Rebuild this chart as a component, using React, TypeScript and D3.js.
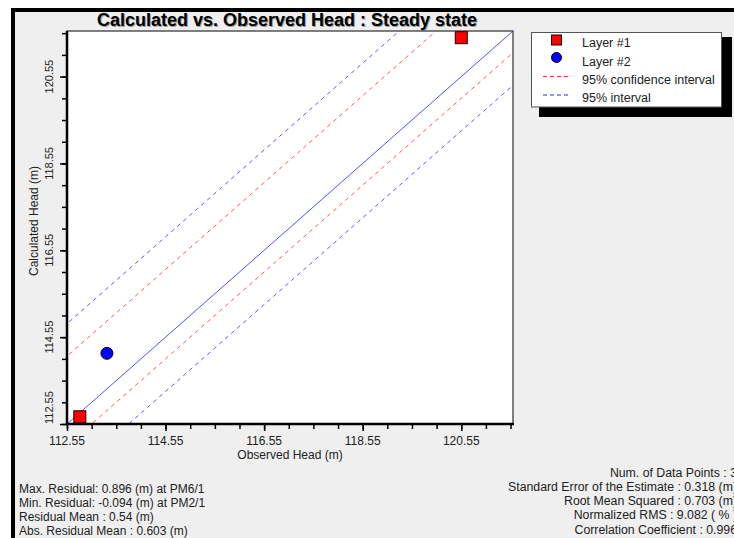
import React, { Component } from 'react';
import * as d3 from 'd3';

// observed vs calculated heads
const layer1 = [
  { observed: 112.81, calculated: 112.716 },
  { observed: 120.55, calculated: 121.446 },
];
const layer2 = [{ observed: 113.36, calculated: 114.178 }];

const axisDomain = [112.55, 121.6];
const majorTicks = [112.55, 114.55, 116.55, 118.55, 120.55];
const minorTicks = [
  112.55, 113.05, 113.55, 114.05, 114.55, 115.05, 115.55, 116.05, 116.55,
  117.05, 117.55, 118.05, 118.55, 119.05, 119.55, 120.05, 120.55, 121.05, 121.55,
];

// interval lines are parallel to 1:1, shifted by the residual mean
const residualMean = 0.53;
const confidenceHalf = 1.03;
const intervalHalf = 1.78;

const legendLabels = ['Layer #1', 'Layer #2', '95% confidence interval', '95% interval'];

const leftStats = [
  'Max. Residual: 0.896 (m) at PM6/1',
  'Min. Residual: -0.094 (m) at PM2/1',
  'Residual Mean : 0.54 (m)',
  'Abs. Residual Mean : 0.603 (m)',
];
const rightStats = [
  'Num. of Data Points : 3',
  'Standard Error of the Estimate : 0.318 (m)',
  'Root Mean Squared : 0.703 (m)',
  'Normalized RMS : 9.082 ( % )',
  'Correlation Coefficient : 0.996',
];

const FONT = "Arial, 'Liberation Sans', sans-serif";
const W = 734, H = 538;
const plot = { left: 67, right: 513, top: 31, bottom: 424 };
const RED = '#ff2a2a', BLUE = '#2a2aff';

class ScatterChart extends Component {
  el: SVGSVGElement | null = null;

  componentDidMount() {
    this.draw();
  }

  draw() {
    const svg = d3.select(this.el);
    svg.selectAll('*').remove();

    const x = d3.scaleLinear().domain(axisDomain).range([plot.left, plot.right]);
    const y = d3.scaleLinear().domain(axisDomain).range([plot.bottom, plot.top]);

    // frame / background
    svg.append('rect').attr('width', W).attr('height', H).attr('fill', '#fff');
    svg.append('rect').attr('x', 15).attr('y', 12).attr('width', W - 15).attr('height', H - 12).attr('fill', '#efefef');
    svg.append('rect').attr('x', 11).attr('y', 8).attr('width', 4).attr('height', H - 8).attr('fill', '#000');
    svg.append('rect').attr('x', 11).attr('y', 8).attr('width', W - 11).attr('height', 4).attr('fill', '#000');

    // title with its soft shadow
    const title = 'Calculated vs. Observed Head : Steady state';
    svg.append('text').attr('x', 288).attr('y', 26.5).attr('text-anchor', 'middle')
      .style('font', `bold 18px ${FONT}`).attr('fill', '#9a9a9a').text(title);
    svg.append('text').attr('x', 287).attr('y', 25.5).attr('text-anchor', 'middle')
      .style('font', `bold 18px ${FONT}`).attr('fill', '#000').text(title);

    // plot area
    svg.append('rect').attr('x', plot.left).attr('y', plot.top)
      .attr('width', plot.right - plot.left).attr('height', plot.bottom - plot.top)
      .attr('fill', '#fff').attr('stroke', '#555').attr('stroke-width', 1.5);

    svg.append('clipPath').attr('id', 'plotClip').append('rect')
      .attr('x', plot.left).attr('y', plot.top)
      .attr('width', plot.right - plot.left).attr('height', plot.bottom - plot.top);

    const g = svg.append('g').attr('clip-path', 'url(#plotClip)');
    const line = d3.line<number>().x(d => x(d[0])).y(d => y(d[1]));
    const diag = (off: number) => [[axisDomain[0] - 3, axisDomain[0] - 3 + off], [axisDomain[1] + 3, axisDomain[1] + 3 + off]];

    const intervals = [
      { off: residualMean + intervalHalf, color: BLUE },
      { off: residualMean - intervalHalf, color: BLUE },
      { off: residualMean + confidenceHalf, color: RED },
      { off: residualMean - confidenceHalf, color: RED },
    ];
    g.selectAll('path.interval').data(intervals).enter().append('path')
      .attr('class', 'interval')
      .attr('d', d => line(diag(d.off) as any))
      .attr('fill', 'none').attr('stroke', d => d.color).attr('stroke-width', 1)
      .attr('stroke-dasharray', '4,4').attr('opacity', 0.8);

    g.append('path').attr('d', line(diag(0) as any))
      .attr('fill', 'none').attr('stroke', '#3434ff').attr('stroke-width', 1).attr('opacity', 0.85);

    // points
    svg.selectAll('rect.l1').data(layer1).enter().append('rect')
      .attr('class', 'l1')
      .attr('x', d => x(d.observed) - 6).attr('y', d => y(d.calculated) - 6)
      .attr('width', 12).attr('height', 12)
      .attr('fill', '#ff0000').attr('stroke', '#1a0000').attr('stroke-width', 1);
    svg.selectAll('circle.l2').data(layer2).enter().append('circle')
      .attr('class', 'l2')
      .attr('cx', d => x(d.observed)).attr('cy', d => y(d.calculated)).attr('r', 6)
      .attr('fill', '#0000ff').attr('stroke', '#00001a').attr('stroke-width', 1);

    // axes
    const xMinor = d3.axisBottom(x).tickValues(minorTicks).tickSize(5).tickFormat(() => '');
    const xMajor = d3.axisBottom(x).tickValues(majorTicks).tickSize(7).tickFormat(() => '');
    const yMinor = d3.axisLeft(y).tickValues(minorTicks).tickSize(5).tickFormat(() => '');
    const yMajor = d3.axisLeft(y).tickValues(majorTicks).tickSize(7).tickFormat(() => '');

    [xMinor, xMajor].forEach(a => {
      const ax = svg.append('g').attr('transform', `translate(0,${plot.bottom})`).call(a);
      ax.select('.domain').remove();
      ax.selectAll('.tick line').attr('stroke', '#000').attr('stroke-width', 1.5);
    });
    [yMinor, yMajor].forEach(a => {
      const ax = svg.append('g').attr('transform', `translate(${plot.left},0)`).call(a);
      ax.select('.domain').remove();
      ax.selectAll('.tick line').attr('stroke', '#000').attr('stroke-width', 1.5);
    });

    svg.append('line').attr('x1', plot.left).attr('x2', plot.left).attr('y1', plot.top).attr('y2', plot.bottom + 1)
      .attr('stroke', '#000').attr('stroke-width', 2.5);
    svg.append('line').attr('x1', plot.left - 1).attr('x2', plot.right + 1).attr('y1', plot.bottom).attr('y2', plot.bottom)
      .attr('stroke', '#000').attr('stroke-width', 2.5);

    const fmt = d3.format('.2f');
    svg.selectAll('text.xt').data(majorTicks).enter().append('text')
      .attr('class', 'xt')
      .attr('x', d => x(d)).attr('y', 445).attr('text-anchor', 'middle')
      .style('font', `12px ${FONT}`).attr('fill', '#222').text(d => fmt(d));
    svg.selectAll('text.yt').data(majorTicks).enter().append('text')
      .attr('class', 'yt')
      .attr('transform', d => `translate(53,${y(d)}) rotate(-90)`)
      .attr('text-anchor', d => (d === axisDomain[0] ? 'start' : 'middle'))
      .style('font', `11px ${FONT}`).attr('fill', '#222').text(d => fmt(d));

    svg.append('text').attr('x', 290).attr('y', 458.5).attr('text-anchor', 'middle')
      .style('font', `12px ${FONT}`).attr('fill', '#222').text('Observed Head (m)');
    svg.append('text').attr('transform', 'translate(38,221) rotate(-90)').attr('text-anchor', 'middle')
      .style('font', `12px ${FONT}`).attr('fill', '#222').text('Calculated Head (m)');

    // legend
    svg.append('rect').attr('x', 539).attr('y', 37).attr('width', 193).attr('height', 80).attr('fill', '#000');
    svg.append('rect').attr('x', 531.5).attr('y', 32.5).attr('width', 190).attr('height', 74.5)
      .attr('fill', '#fff').attr('stroke', '#555').attr('stroke-width', 1);
    svg.append('rect').attr('x', 551.5).attr('y', 35).attr('width', 10).attr('height', 10)
      .attr('fill', '#ff0000').attr('stroke', '#1a0000');
    svg.append('circle').attr('cx', 556.5).attr('cy', 57.5).attr('r', 5)
      .attr('fill', '#0000ff').attr('stroke', '#00001a');
    [{ yy: 76.5, c: RED }, { yy: 95, c: BLUE }].forEach(d => {
      svg.append('line').attr('x1', 543).attr('x2', 569).attr('y1', d.yy).attr('y2', d.yy)
        .attr('stroke', d.c).attr('stroke-dasharray', '4,3').attr('stroke-width', 1);
    });
    const legendY = [47, 65.5, 83.5, 102];
    svg.selectAll('text.lg').data(legendLabels).enter().append('text')
      .attr('class', 'lg')
      .attr('x', 582).attr('y', (d, i) => legendY[i])
      .style('font', `12.5px ${FONT}`).attr('fill', '#222').text(d => d);

    // statistics (right block runs past the window edge, as in the original)
    svg.selectAll('text.ls').data(leftStats).enter().append('text')
      .attr('class', 'ls')
      .attr('x', 19).attr('y', (d, i) => 492.5 + i * 14.3)
      .style('font', `12px ${FONT}`).attr('fill', '#222').text(d => d);
    svg.selectAll('text.rs').data(rightStats).enter().append('text')
      .attr('class', 'rs')
      .attr('x', 737).attr('y', (d, i) => 476.5 + i * 14.25).attr('text-anchor', 'end')
      .style('font', `12.3px ${FONT}`).attr('fill', '#222').text(d => d);
  }

  render() {
    return (
      <svg ref={el => { this.el = el; }} width={W} height={H}
        style={{ position: 'absolute', left: 0, top: 0, display: 'block', overflow: 'hidden' }} />
    );
  }
}

export default function App() {
  return <ScatterChart />;
}
